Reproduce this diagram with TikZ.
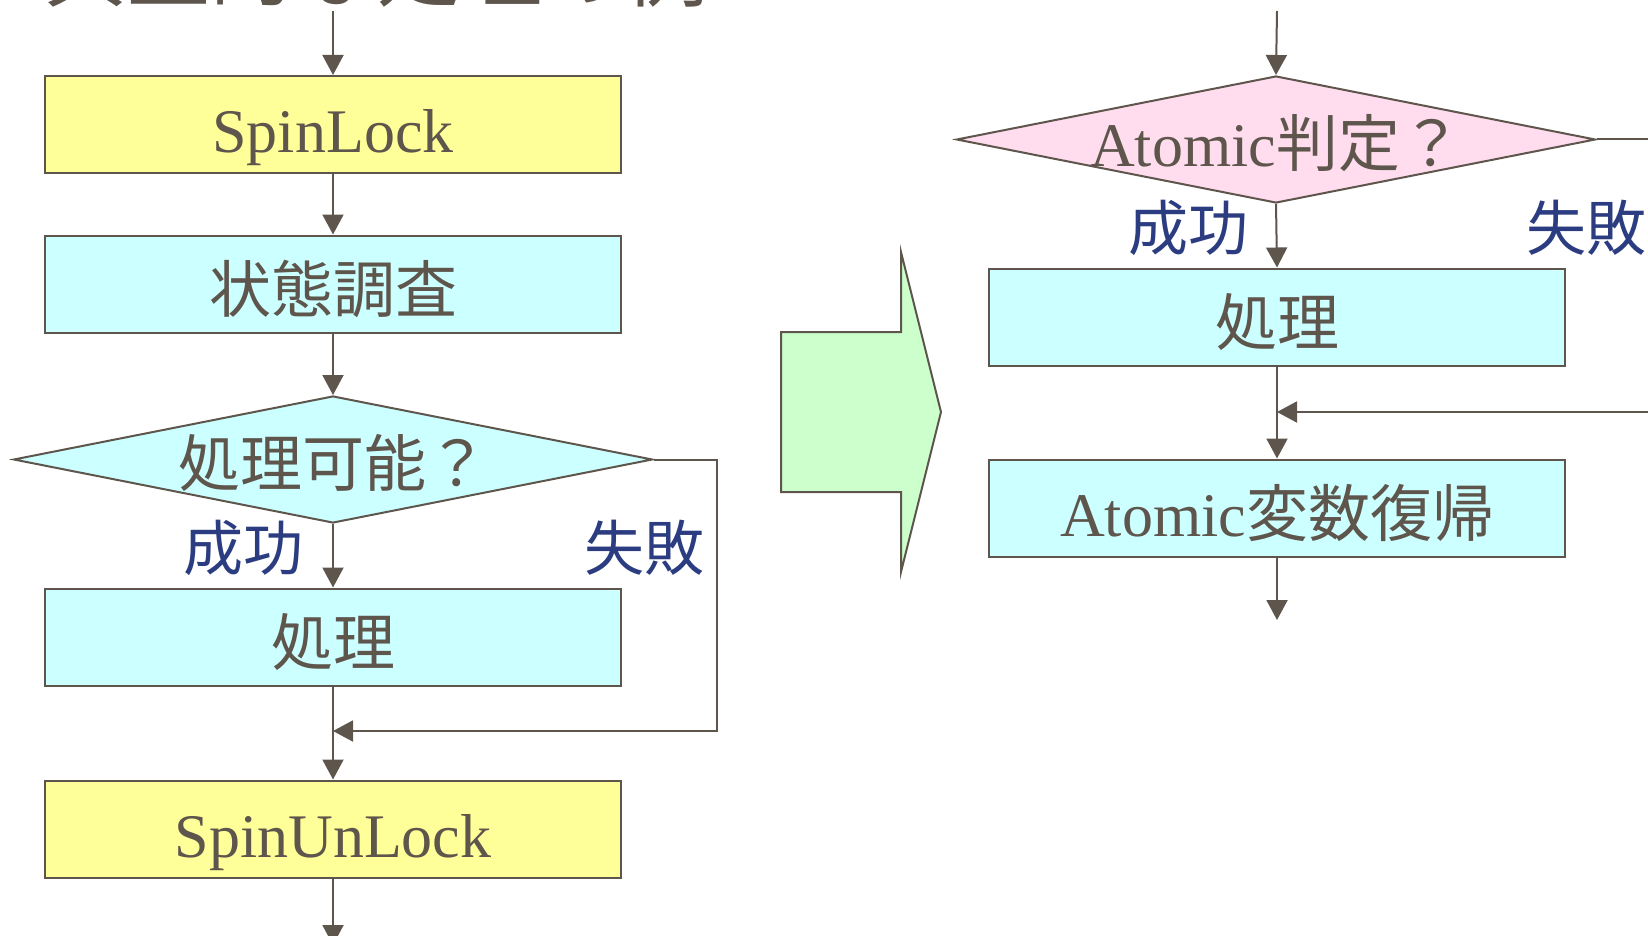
\documentclass[tikz,border=0pt]{standalone}
\usepackage{fontspec}
\setmainfont{Liberation Serif}
\newfontfamily\jp{Noto Sans CJK JP}
\usetikzlibrary{arrows.meta,shapes.geometric}
\definecolor{ln}{HTML}{5E554C}
\definecolor{txt}{HTML}{5E554C}
\definecolor{lbl}{HTML}{2B3C80}
\definecolor{yel}{HTML}{FFFF99}
\definecolor{cyn}{HTML}{CCFFFF}
\definecolor{pnk}{HTML}{FFDDEE}
\definecolor{grn}{HTML}{CCFFCC}
\begin{document}
\begin{tikzpicture}[x=1pt,y=-1pt,
  box/.style={draw=ln,line width=2pt,minimum width=576pt,minimum height=97pt,inner sep=0pt,text=txt,text height=56pt,text depth=0pt,font=\fontsize{62}{70}\selectfont},
  dia/.style={diamond,draw=ln,line width=2pt,inner sep=0pt,minimum width=639pt,minimum height=127pt},
  dtext/.style={text=txt,font=\fontsize{62}{70}\selectfont,inner sep=0pt,text height=54pt,text depth=0pt},
  lab/.style={text=lbl,font=\jp\fontsize{60}{66}\selectfont,inner sep=0pt},
  arr/.style={draw=ln,line width=2pt,-{Triangle[length=20pt,width=21pt]}},
  lin/.style={draw=ln,line width=2pt}
]
\useasboundingbox (0,0) rectangle (1648,936);
\clip (0,0) rectangle (1648,936);

% title (cut off at top, as in the reference)
\node[anchor=base west,inner sep=0pt,text=txt,font=\jp\fontsize{83}{90}\selectfont] (title) at (44,1) {典型的な処理の例};

% left column
\coordinate (in1) at (333,11);
\node[box,fill=yel] (b1) at (333,124.5) {SpinLock};
\node[box,fill=cyn] (b2) at (333,284) {\jp 状態調査};
\node[dia,fill=cyn,label={[dtext]center:{\jp 処理可能？}}] (d1) at (333,459.5) {};
\node[box,fill=cyn] (b3) at (333,637) {\jp 処理};
\node[box,fill=yel] (b4) at (333,829) {SpinUnLock};
\coordinate (j1) at (333,731);
\coordinate (f1) at (717,459.5);
\coordinate (f2) at (717,731);
\coordinate (out1) at (333,945);
\node[lab] (l1) at (243,548) {成功};
\node[lab] (l2) at (644,548) {失敗};

\draw[arr] (in1) -- (b1.north);
\draw[arr] (b1.south) -- (b2.north);
\draw[arr] (b2.south) -- (d1.north);
\draw[arr] (d1.south) -- (b3.north);
\draw[arr] (b3.south) -- (b4.north);
\draw[arr] (b4.south) -- (out1);
\draw[arr] (d1.east) -- (f1) -- (f2) -- (j1);

% block arrow
\draw[draw=ln,line width=2pt,fill=grn,line join=miter]
  (781,332) -- (901,332) -- (901,252) -- (941,412) -- (901,572) -- (901,492) -- (781,492) -- cycle;

% right column
\coordinate (in2) at (1277,11);
\node[dia,fill=pnk,label={[dtext]center:{Atomic\jp 判定？}}] (d2) at (1276,139.5) {};
\node[box,fill=cyn] (r1) at (1277,317) {\jp 処理};
\node[box,fill=cyn] (r2) at (1277,508) {Atomic{\jp 変数復帰}};
\coordinate (j2) at (1277,412);
\coordinate (g1) at (1720,139.5);
\coordinate (g2) at (1720,412);
\coordinate (out2) at (1277,620);
\node[lab] (l3) at (1188,228) {成功};
\node[lab,anchor=west] (l4) at (1526,228) {失敗};

\draw[arr] (in2) -- (d2.north);
\draw[arr] (d2.south) -- (r1.north);
\draw[arr] (r1.south) -- (r2.north);
\draw[arr] (r2.south) -- (out2);
\draw[arr] (d2.east) -- (g1) -- (g2) -- (j2);
\end{tikzpicture}
\end{document}
